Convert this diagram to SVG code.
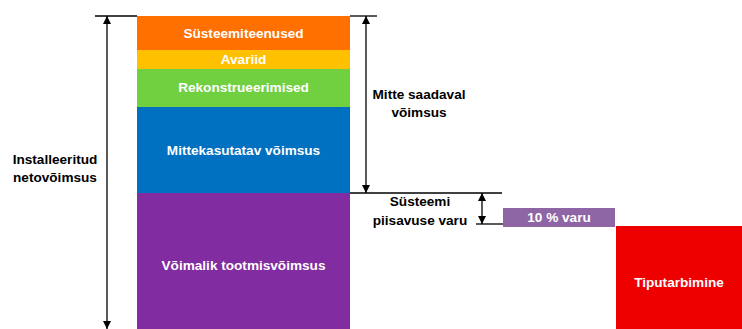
<svg xmlns="http://www.w3.org/2000/svg" width="742" height="329" viewBox="0 0 742 329">
  <style>
    .lbl { font-family: "Liberation Sans", Arial, sans-serif; font-weight: bold; font-size: 13.6px; text-anchor: middle; }
    .w { fill: #ffffff; }
    .k { fill: #000000; }
    .ln { stroke: #000000; stroke-width: 1.3; fill: none; }
  </style>
  <defs>
    <marker id="ah" viewBox="0 0 10 10" refX="10" refY="5" markerWidth="8" markerHeight="8" orient="auto-start-reverse" markerUnits="userSpaceOnUse">
      <path d="M0,0 L10,5 L0,10 z" fill="#000"/>
    </marker>
  </defs>
  <rect width="742" height="329" fill="#ffffff"/>

  <g id="systemservices">
    <rect x="137" y="16" width="213" height="34" fill="#FF7000"/>
    <text class="lbl w" x="243.5" y="38">Süsteemiteenused</text>
  </g>
  <g id="outages">
    <rect x="137" y="50" width="213" height="19" fill="#FFC000"/>
    <text class="lbl w" x="243.5" y="64">Avariid</text>
  </g>
  <g id="reconstruction">
    <rect x="137" y="69" width="213" height="38" fill="#70D040"/>
    <text class="lbl w" x="243.5" y="92">Rekonstrueerimised</text>
  </g>
  <g id="unused">
    <rect x="137" y="107" width="213" height="86" fill="#0070C0"/>
    <text class="lbl w" x="243.5" y="155">Mittekasutatav võimsus</text>
  </g>
  <g id="available">
    <rect x="137" y="193" width="213" height="136" fill="#812CA0"/>
    <text class="lbl w" x="243.5" y="270">Võimalik tootmisvõimsus</text>
  </g>
  <g id="reserve">
    <rect x="503" y="208" width="112" height="19" fill="#8E66A6"/>
    <text class="lbl w" x="559" y="222">10 % varu</text>
  </g>
  <g id="peak">
    <rect x="616" y="226" width="126" height="103" fill="#EE0000"/>
    <text class="lbl w" x="679" y="287">Tiputarbimine</text>
  </g>

  <g id="connectors">
    <line class="ln" x1="95" y1="16" x2="137" y2="16"/>
    <line class="ln" x1="350" y1="16" x2="377" y2="16"/>
    <line class="ln" x1="350" y1="193" x2="502" y2="193"/>
    <line class="ln" x1="476" y1="224" x2="503" y2="224"/>
    <line class="ln" x1="107" y1="16" x2="107" y2="329" marker-start="url(#ah)" marker-end="url(#ah)"/>
    <line class="ln" x1="366" y1="16" x2="366" y2="193" marker-start="url(#ah)" marker-end="url(#ah)"/>
    <line class="ln" x1="482" y1="193" x2="482" y2="224" marker-start="url(#ah)" marker-end="url(#ah)"/>
  </g>

  <g id="labels">
    <text class="lbl k" x="419" y="99">Mitte saadaval</text>
    <text class="lbl k" x="419" y="117">võimsus</text>
    <text class="lbl k" x="55" y="164">Installeeritud</text>
    <text class="lbl k" x="55" y="182">netovõimsus</text>
    <text class="lbl k" x="420" y="206">Süsteemi</text>
    <text class="lbl k" x="420" y="225">piisavuse varu</text>
  </g>
</svg>
